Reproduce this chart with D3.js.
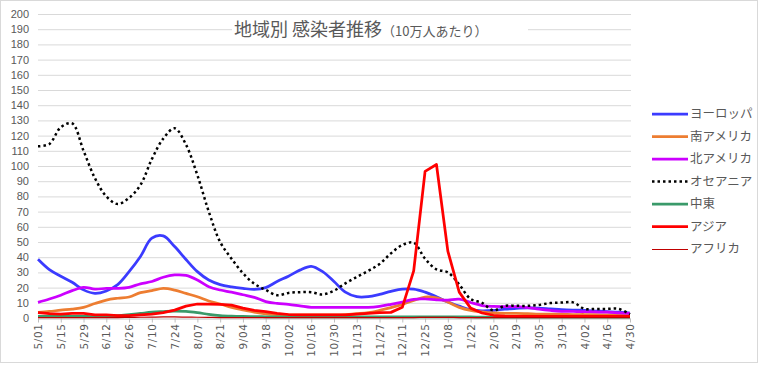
<!DOCTYPE html>
<html lang="ja">
<head>
<meta charset="utf-8">
<title>地域別 感染者推移</title>
<script src="https://d3js.org/d3.v7.min.js"></script>
<style>
  body { margin: 0; background: #fff; }
  text { fill: #595959; }
</style>
</head>
<body>
<div id="chart"></div>
<script>
// weekly categories (every other one is labelled)
const weeks = ['5/01','5/08','5/15','5/22','5/29','6/05','6/12','6/19','6/26','7/03','7/10','7/17','7/24','7/31',
  '8/07','8/14','8/21','8/28','9/04','9/11','9/18','9/25','10/02','10/09','10/16','10/23','10/30',
  '11/06','11/13','11/20','11/27','12/04','12/11','12/18','12/25','1/01','1/08','1/15','1/22','1/29',
  '2/05','2/12','2/19','2/26','3/05','3/12','3/19','3/26','4/02','4/09','4/16','4/23','4/30'];
const yTicks = d3.range(0, 201, 10);

const europe = [38.6,31.8,27.5,23.5,18.5,16.2,17.8,22,30.5,40.5, 52.5,54,47,38.5,30.5,25,22,20.5,19.5,18.8,
  20,24,27.5,31.5,34,30.5,24,17,14,14, 15.5,17.5,19,19,17,14,10.5,7.8,5.5,4.7,
  5,5.8,6.3,6.7,6.5,6,5.5,5.2,5,4.6, 4.2,3.8,3.2];
const southAmerica = [3.7,4.3,5.2,5.9,7,9.5,11.8,13,13.8,16.7, 18,19.5,18.4,16.2,14,11.2,9.2,7,5.3,3.8,
  2.7,2.2,2,2,2,2,2,2.2,2.8,3.5, 5,6.8,9,11.5,13.8,13.2,10.5,7,5,4,
  3.3,3,3,2.8,2.5,2.5,2.5,2.3,2.3,2.2, 2,2,1.8];
const northAmerica = [10.3,12.5,15,18,20.2,19,19.5,19.5,20.2,22.5, 24,26.8,28.3,28,25,20.6,18.4,17,15.3,13.6,
  10.8,9.6,9,8,7,7,7,7,7,7, 7.7,9,10.5,12.3,12.5,12,11.8,12.4,10.2,8.2,
  7.6,7.5,7.5,6.8,5.8,5,4.4,4.3,4.2,4, 3.8,3.4,3];
const oceania = [113,114.5,125.5,128,110,92,80,75,79,87.5, 104.5,118,124.8,114,94,70,50,39,29.5,22.5,
  18.5,15,16.5,17,17,15.5,18,22.8,27,31, 35.5,42.5,48,49.5,39,32,30,22,12.5,10,
  5,8,8,8,8.6,9.8,10.2,10.3,6,6, 6,6,2.5];
const middleEast = [1,1,1,1,1,1,1.2,1.5,2.2,3, 3.8,4.2,4.5,4.3,3.5,2.4,1.6,1.2,1,0.9,
  0.8,0.8,0.7,0.7,0.7,0.7,0.7,0.7,0.7,0.7, 0.7,0.7,0.7,0.8,0.8,0.8,0.8,0.7,0.7,0.6,
  0.6,0.6,0.6,0.6,0.6,0.6,0.6,0.6,0.6,0.6, 0.6,0.6,0.6];
const asia = [3.5,2.8,2.5,3,3,2,2,1.5,1.5,2, 2.5,3.5,5.2,7.8,9.2,9.2,9,8.5,6.5,5,
  4.2,3,2.3,2,2,2,2,2,2.5,3, 3.5,3.7,7,31,96.5,101,44,17,6.5,3.3,
  1.8,1.2,1,1,1,1,1,1,1,1, 1,1,1];
const africa = [0.3,0.3,0.3,0.3,0.3,0.3,0.3,0.3,0.4,0.5, 0.6,0.7,0.7,0.6,0.5,0.4,0.3,0.3,0.3,0.3,
  0.3,0.3,0.3,0.3,0.3,0.3,0.3,0.3,0.3,0.3, 0.3,0.3,0.3,0.3,0.4,0.4,0.4,0.3,0.3,0.3,
  0.3,0.3,0.3,0.3,0.3,0.3,0.3,0.3,0.3,0.3, 0.3,0.3,0.3];

const seriesNames = ['ヨーロッパ','南アメリカ','北アメリカ','オセアニア','中東','アジア','アフリカ'];
const seriesValues = [europe, southAmerica, northAmerica, oceania, middleEast, asia, africa];

const width = 759, height = 365;
const plotLeft = 38, plotRight = 630, plotTop = 14, plotBottom = 318;

const colours = ['#3b3bff','#ed7d31','#cc00ff','#000000','#3a9a6a','#ff0000','#c00000'];

const svg = d3.select('#chart').append('svg')
  .attr('width', width).attr('height', height);

svg.append('rect')
  .attr('x', 0.5).attr('y', 0.5)
  .attr('width', 757).attr('height', 362)
  .attr('fill', '#fff').attr('stroke', '#d9d9d9');

const x = d3.scalePoint().domain(weeks).range([plotLeft, plotRight]);
const y = d3.scaleLinear().domain([0, 200]).range([plotBottom, plotTop]);

// horizontal gridlines
svg.append('g').selectAll('line')
  .data(yTicks.slice(1))
  .enter().append('line')
  .attr('x1', plotLeft).attr('x2', plotRight + 1)
  .attr('y1', d => y(d) + 0.5).attr('y2', d => y(d) + 0.5)
  .attr('stroke', '#d9d9d9').attr('stroke-width', 1);

// y labels
const yAxis = svg.append('g')
  .attr('transform', `translate(${plotLeft},0)`)
  .call(d3.axisLeft(y).tickValues(yTicks).tickSize(0).tickPadding(9));
yAxis.select('.domain').remove();
yAxis.selectAll('text')
  .style('font-family', '"Liberation Sans", Arial, sans-serif')
  .style('font-size', '11px')
  .attr('fill', '#595959');

// x axis
const xAxis = svg.append('g')
  .attr('transform', `translate(0,${plotBottom + 0.5})`)
  .call(d3.axisBottom(x).tickValues(weeks.filter((d, i) => i % 2 === 0)).tickSize(4).tickSizeOuter(0));
xAxis.select('.domain').attr('stroke', '#bfbfbf');
xAxis.selectAll('.tick line').attr('stroke', '#bfbfbf');
xAxis.selectAll('text')
  .style('font-family', '"DejaVu Sans", sans-serif')
  .style('font-size', '10.5px')
  .style('letter-spacing', '0.6px')
  .attr('fill', '#595959')
  .attr('text-anchor', 'end')
  .attr('transform', 'rotate(-90)')
  .attr('x', -5)
  .attr('y', 0)
  .attr('dy', '0.35em');

// series lines
const lineSmooth = d3.line()
  .x((d, i) => x(weeks[i]))
  .y(d => y(d))
  .curve(d3.curveCatmullRom.alpha(0.5));
const lineStraight = d3.line()
  .x((d, i) => x(weeks[i]))
  .y(d => y(d));

const lines = svg.append('g').attr('fill', 'none');
seriesValues.forEach((vals, k) => {
  const p = lines.append('path')
    .attr('d', seriesNames[k] === 'アジア' ? lineStraight(vals) : lineSmooth(vals))
    .attr('stroke', colours[k])
    .attr('stroke-linejoin', 'round')
    .attr('stroke-width', seriesNames[k] === 'アフリカ' ? 1.2 : 2.75);
  if (seriesNames[k] === 'オセアニア') {
    p.attr('stroke-width', 2.5).attr('stroke-dasharray', '2.5,3');
  }
});

// title (white box over the gridlines)
svg.append('rect')
  .attr('x', 232).attr('y', 18).attr('width', 296).attr('height', 23)
  .attr('fill', '#fff');
const title = svg.append('text')
  .attr('x', 234).attr('y', 36)
  .style('font-family', '"Noto Sans CJK JP", sans-serif')
  .attr('fill', '#595959');
title.append('tspan').style('font-size', '18px').text('地域別 感染者推移');
title.append('tspan').style('font-size', '13px').text('（10万人あたり）');

// legend
const legend = svg.append('g').attr('transform', 'translate(652,114)');
seriesNames.forEach((name, k) => {
  const row = legend.append('g').attr('transform', `translate(0,${k * 22.5})`);
  const l = row.append('line')
    .attr('x1', 0).attr('x2', 36)
    .attr('y1', name === 'アフリカ' ? 0.5 : 0).attr('y2', name === 'アフリカ' ? 0.5 : 0)
    .attr('stroke', colours[k])
    .attr('stroke-width', name === 'アフリカ' ? 1 : 2.75);
  if (name === 'オセアニア') l.attr('stroke-width', 2.5).attr('stroke-dasharray', '2.5,3');
  row.append('text')
    .attr('x', 38).attr('y', 0).attr('dy', '0.35em')
    .style('font-family', '"Noto Sans CJK JP", sans-serif')
    .style('font-size', '12.5px')
    .attr('fill', '#595959')
    .text(name);
});
</script>
</body>
</html>
